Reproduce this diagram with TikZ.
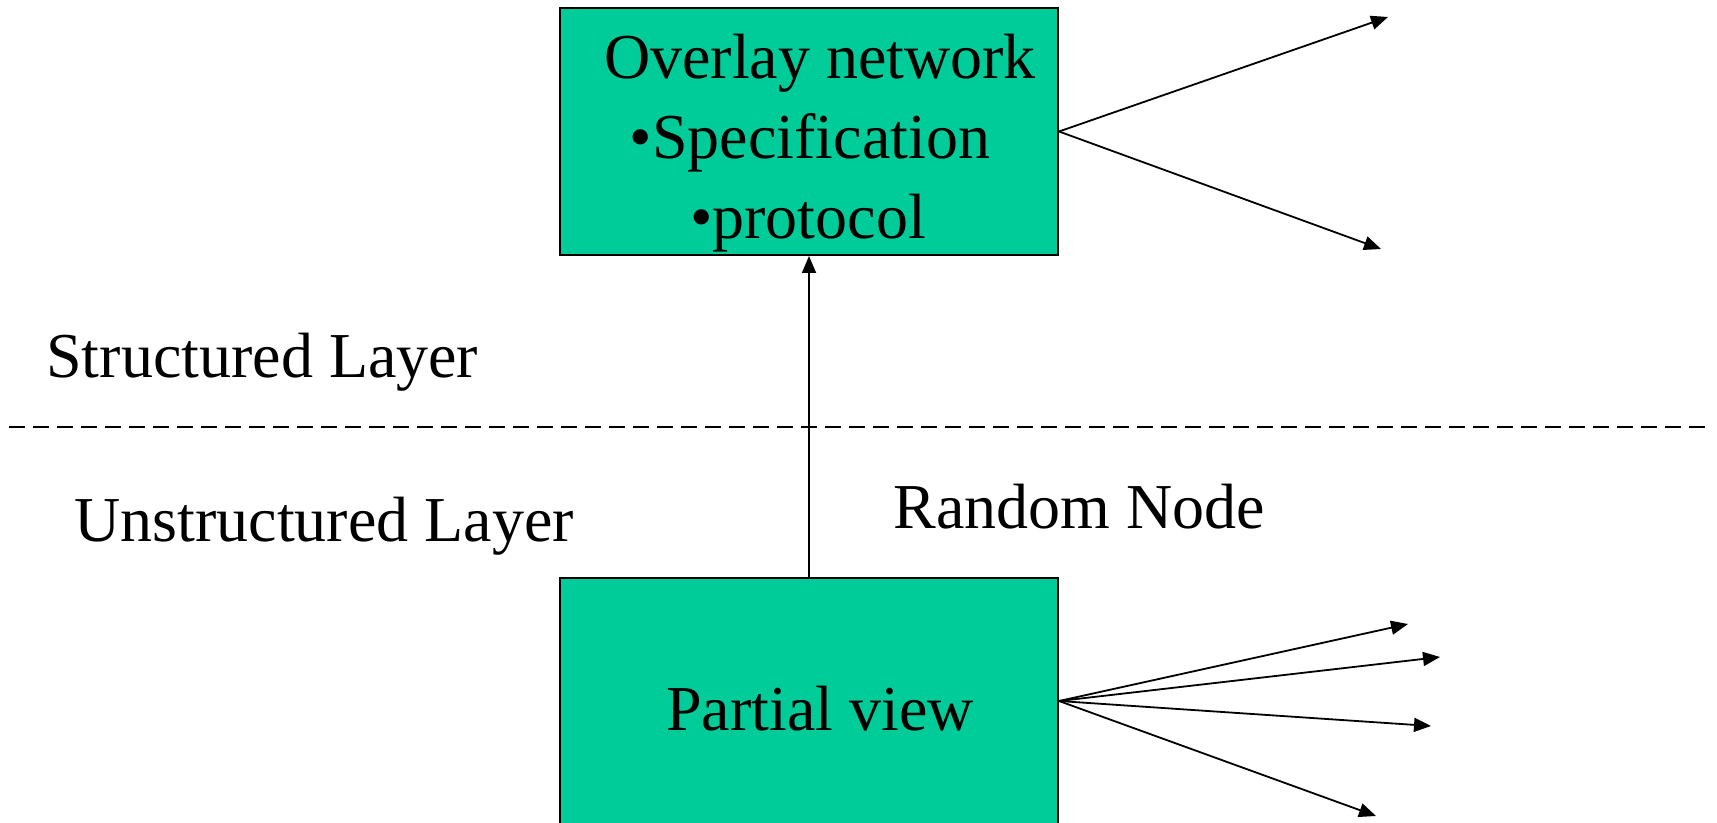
\documentclass[tikz,border=0pt]{standalone}
\usepackage{fontspec}
\setmainfont{Liberation Serif}
\usetikzlibrary{arrows.meta}
\definecolor{boxgreen}{RGB}{0,204,153}

\begin{document}
\begin{tikzpicture}[
  x=0.5pt, y=-0.5pt,
  layerbox/.style={rectangle, draw, line width=1pt, fill=boxgreen, minimum width=249pt, minimum height=123.5pt, inner sep=0pt},
  lbl/.style={inner sep=0pt, font=\fontsize{32}{40}\selectfont},
  link/.style={-{Triangle[length=8.5pt,width=7pt]}, line width=0.9pt},
  divider/.style={line width=0.8pt, dash pattern=on 8pt off 4pt}
]
\useasboundingbox (0,0) rectangle (1717,823);

\node[layerbox] (overlay) at (809,131.5) {};
\node[layerbox] (partial) at (809,701) {};

\node[lbl, anchor=base] (ovlhead) at (820,79) {Overlay network};
\node[lbl, anchor=base] (ovlspec) at (810,159) {•Specification};
\node[lbl, anchor=base] (ovlproto) at (808,239) {•protocol};
\node[lbl, anchor=base] (partialtxt) at (820,730) {Partial view};

\node[lbl, anchor=base west] (structured) at (46,378) {Structured Layer};
\node[lbl, anchor=base west] (unstructured) at (74,541) {Unstructured Layer};
\node[lbl, anchor=base west] (random) at (893,528) {Random Node};

\coordinate (divL) at (9,427);
\coordinate (divR) at (1710,427);
\draw[divider] (divL) -- (divR);

\coordinate (up1) at (1388,17);
\coordinate (up2) at (1381,249);
\coordinate (low1) at (1408,624);
\coordinate (low2) at (1440,657);
\coordinate (low3) at (1431,726);
\coordinate (low4) at (1376,816);

\draw[link] (partial.north) -- (overlay.south);
\draw[link] (overlay.east) -- (up1);
\draw[link] (overlay.east) -- (up2);
\foreach \t in {low1,low2,low3,low4}
  \draw[link] (partial.east) -- (\t);
\end{tikzpicture}
\end{document}
